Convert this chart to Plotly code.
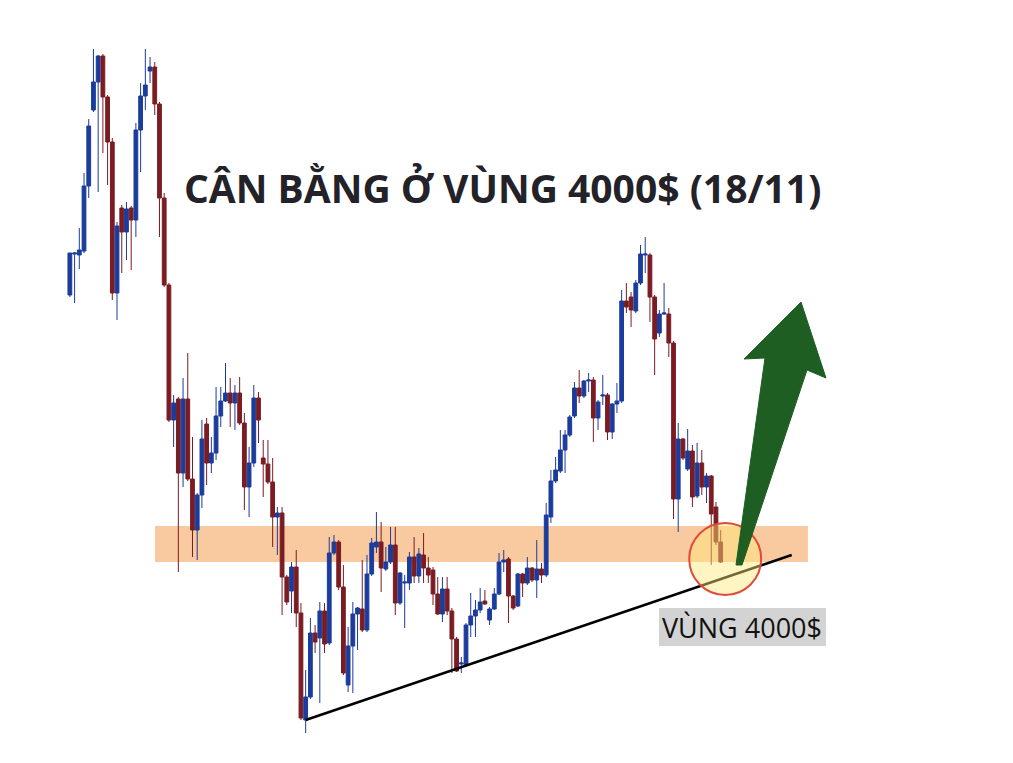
import plotly.graph_objects as go

# ---- candle data (price, one value per candle) ----
opens = [4250, 4291, 4290, 4294, 4359, 4435, 4463, 4489, 4448, 4403,
         4252, 4337, 4313, 4337, 4325, 4415, 4449, 4474, 4478, 4441,
         4347, 4260, 4125, 4146, 4072, 4146, 4066, 4015, 4050, 4121,
         4082, 4092, 4129, 4144, 4152, 4142, 4152, 4122, 4058, 4082,
         4147, 4087, 4081, 4063, 4028, 4032, 3968, 3954, 3978, 3932,
         3825, 3848, 3912, 3907, 3934, 3902, 3992, 4003, 3958, 3860,
         3899, 3931, 3936, 3915, 3971, 3998, 4003, 3976, 3983, 4000,
         3942, 3962, 3962, 3988, 3969, 3990, 3977, 3975, 3951, 3931,
         3956, 3934, 3906, 3881, 3880, 3920, 3929, 3935, 3944, 3925,
         3936, 3951, 3983, 3986, 3949, 3939, 3971, 3962, 3977, 3965,
         3976, 3970, 4028, 4064, 4074, 4095, 4110, 4129, 4157, 4149,
         4164, 4165, 4127, 4149, 4150, 4113, 4141, 4144, 4244, 4248,
         4234, 4262, 4290, 4290, 4248, 4212, 4231, 4231, 4202, 4046,
         4106, 4076, 4094, 4049, 4082, 4058, 4069, 4038, 4003]
highs = [4292, 4293, 4317, 4372, 4426, 4496, 4490, 4491, 4450, 4407,
         4323, 4340, 4343, 4339, 4422, 4462, 4496, 4488, 4483, 4443,
         4352, 4262, 4150, 4148, 4167, 4192, 4108, 4052, 4125, 4127,
         4108, 4158, 4158, 4182, 4167, 4160, 4168, 4132, 4098, 4160,
         4153, 4105, 4105, 4087, 4038, 4038, 3970, 3983, 3995, 3942,
         3875, 3927, 3920, 3943, 3942, 4008, 4010, 4005, 3980, 3918,
         3943, 3938, 3985, 3990, 4007, 4033, 4023, 3998, 4018, 4018,
         3973, 3970, 3993, 4008, 3997, 4012, 3988, 3978, 3968, 3968,
         3968, 3937, 3908, 3888, 3922, 3952, 3945, 3957, 3955, 3938,
         3957, 3992, 3995, 3988, 3950, 3972, 3972, 3988, 3978, 4005,
         3982, 4042, 4075, 4088, 4115, 4115, 4130, 4163, 4175, 4165,
         4172, 4168, 4145, 4170, 4152, 4142, 4162, 4255, 4262, 4253,
         4265, 4300, 4308, 4292, 4250, 4235, 4262, 4237, 4204, 4122,
         4107, 4116, 4100, 4102, 4095, 4072, 4070, 4043, 4015]
lows = [4248, 4242, 4276, 4292, 4347, 4433, 4353, 4392, 4360, 4245,
        4225, 4272, 4285, 4275, 4308, 4373, 4435, 4462, 4430, 4308,
        4258, 4123, 4098, 3973, 4058, 4064, 3988, 3985, 4037, 4060,
        4072, 4085, 4118, 4143, 4118, 4115, 4120, 4035, 4028, 4078,
        4102, 4048, 4061, 3998, 3990, 3930, 3940, 3932, 3918, 3825,
        3812, 3846, 3892, 3842, 3892, 3900, 3990, 3955, 3870, 3853,
        3852, 3895, 3913, 3913, 3969, 3992, 3953, 3974, 3981, 3930,
        3940, 3917, 3955, 3962, 3962, 3962, 3962, 3940, 3930, 3923,
        3930, 3872, 3873, 3872, 3878, 3908, 3908, 3932, 3940, 3920,
        3935, 3950, 3973, 3922, 3935, 3938, 3948, 3960, 3963, 3947,
        3962, 3968, 4022, 4062, 4072, 4072, 4108, 4127, 4142, 4147,
        4153, 4103, 4115, 4140, 4105, 4106, 4132, 4142, 4232, 4218,
        4232, 4260, 4272, 4223, 4170, 4208, 4230, 4188, 4026, 4013,
        4085, 4074, 4038, 4047, 4050, 4042, 3980, 4000, 3982]
closes = [4292, 4292, 4295, 4359, 4419, 4463, 4489, 4448, 4403, 4252,
          4319, 4313, 4336, 4325, 4415, 4449, 4460, 4478, 4441, 4347,
          4260, 4125, 4142, 4072, 4146, 4066, 4015, 4050, 4106, 4082,
          4092, 4129, 4144, 4152, 4142, 4152, 4122, 4058, 4082, 4147,
          4125, 4081, 4063, 4028, 4032, 3968, 3943, 3978, 3932, 3827,
          3848, 3912, 3903, 3934, 3901, 3992, 4003, 3958, 3872, 3899,
          3931, 3937, 3915, 3971, 4002, 4003, 3977, 3983, 4000, 3942,
          3972, 3963, 3988, 3969, 3991, 3977, 3970, 3951, 3931, 3956,
          3934, 3906, 3874, 3882, 3920, 3929, 3935, 3943, 3941, 3936,
          3951, 3983, 3985, 3949, 3937, 3971, 3962, 3977, 3965, 3976,
          3970, 4030, 4064, 4075, 4095, 4110, 4128, 4157, 4149, 4164,
          4165, 4127, 4143, 4150, 4113, 4141, 4144, 4244, 4238, 4235,
          4262, 4291, 4291, 4248, 4206, 4231, 4232, 4202, 4046, 4106,
          4087, 4094, 4048, 4082, 4058, 4069, 4031, 4003, 3983]
candle_idx = list(range(len(opens)))

# ---- annotation values ----
TITLE = "CÂN BẰNG Ở VÙNG 4000$ (18/11)"
LABEL = "VÙNG 4000$"
ZONE_LOW, ZONE_HIGH = 3983, 4019
ZONE_X = [18.05, 156.5]
TREND_START = (50, 3825)
TREND_END = (153.06, 3990)
CIRCLE_CENTER = (138.96, 3986)
CIRCLE_RX, CIRCLE_RY = 7.63, 36

# page has an 8px body margin, so the figure starts at (8, 8)
OFF = 8
W, H = 1005, 755
X_RANGE = [-13.119, -13.119 + W / 4.716]
Y_RANGE = [4537 - H, 4537]
BLUE = "#1b3c9c"
RED = "#7a1c22"


def px(x):
    return (x - OFF) / W


def py(y):
    return 1 - (y - OFF) / H


fig = go.Figure()
fig.add_trace(go.Candlestick(
    x=candle_idx, open=opens, high=highs, low=lows, close=closes,
    increasing=dict(line=dict(color=BLUE, width=1), fillcolor=BLUE),
    decreasing=dict(line=dict(color=RED, width=1), fillcolor=RED),
    whiskerwidth=0, hoverinfo="skip", showlegend=False,
))

shapes = []
# orange zone band
shapes.append(dict(type="rect", xref="x", yref="y", x0=ZONE_X[0], x1=ZONE_X[1],
                   y0=ZONE_LOW, y1=ZONE_HIGH, fillcolor="#f9c9a0",
                   line=dict(width=0), layer="below"))
# trend line
shapes.append(dict(type="line", xref="x", yref="y", x0=TREND_START[0], y0=TREND_START[1],
                   x1=TREND_END[0], y1=TREND_END[1], line=dict(color="#000000", width=2.5),
                   layer="above"))
# circle
cx, cy = CIRCLE_CENTER
shapes.append(dict(type="circle", xref="x", yref="y", x0=cx - CIRCLE_RX, x1=cx + CIRCLE_RX,
                   y0=cy - CIRCLE_RY, y1=cy + CIRCLE_RY,
                   fillcolor="rgba(255,232,120,0.45)", line=dict(color="#e04a3c", width=2),
                   layer="above"))
# green arrow (reference pixel points)
arrow_pts = [(736, 565), (765, 358), (744, 359), (801, 302), (826, 378), (807, 370), (742, 565)]
path = "M " + " L ".join(f"{px(a):.5f},{py(b):.5f}" for a, b in arrow_pts) + " Z"
shapes.append(dict(type="path", xref="paper", yref="paper", path=path,
                   fillcolor="#1f5e22", line=dict(color="#1f5e22", width=1), layer="above"))
# label background
shapes.append(dict(type="rect", xref="paper", yref="paper", x0=px(659), x1=px(826),
                   y0=py(646), y1=py(608), fillcolor="#d3d3d3", line=dict(width=0),
                   layer="above"))

annotations = [
    dict(text=TITLE, xref="paper", yref="paper", x=px(502), y=py(187),
         xanchor="center", yanchor="middle", showarrow=False,
         font=dict(family="Open Sans", size=39, color="#222228", weight=700)),
    dict(text=LABEL, xref="paper", yref="paper", x=px(742), y=py(627),
         xanchor="center", yanchor="middle", showarrow=False,
         font=dict(family="Open Sans", size=27, color="#111111")),
]

fig.update_layout(
    width=W, height=H, margin=dict(l=0, r=0, t=0, b=0),
    paper_bgcolor="white", plot_bgcolor="white",
    boxgap=0.2, boxgroupgap=0,
    xaxis=dict(range=X_RANGE, visible=False, rangeslider=dict(visible=False), fixedrange=True),
    yaxis=dict(range=Y_RANGE, visible=False, fixedrange=True),
    showlegend=False, shapes=shapes, annotations=annotations,
)

fig.write_html("out.html")
